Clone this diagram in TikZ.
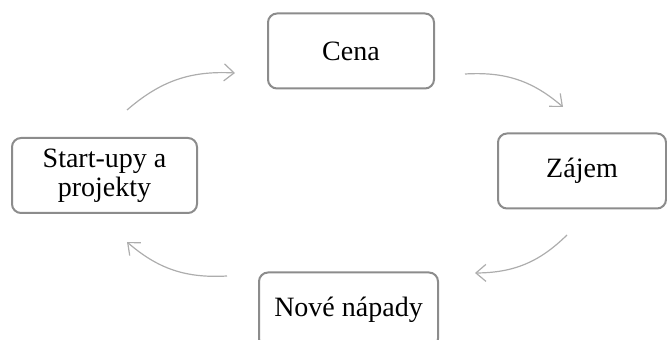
\documentclass[tikz,border=0pt]{standalone}
\usepackage{fontspec}
\setmainfont{Liberation Serif}
\usepackage{tikz}
\usetikzlibrary{positioning,arrows.meta,calc}
\colorlet{boxgray}{black!45}
\colorlet{arrowgray}{black!32}
\tikzset{
  stage/.style={draw=boxgray, line width=2pt, rounded corners=9pt,
    align=center, inner sep=2pt, minimum height=75pt,
    font=\fontsize{28}{29}\selectfont, fill=white},
  cycleflow/.style={-{Straight Barb[length=10pt, width=17pt]}, line width=1.2pt,
    draw=arrowgray},
}
\begin{document}
\begin{tikzpicture}[x=1pt,y=1pt]
\useasboundingbox (0,0) rectangle (667,340);
% stages
\node[stage, minimum width=166pt] (cena) at (351,289) {Cena};
\node[stage, minimum width=168pt] (zajem) at (582,169) {Zájem};
\node[stage, minimum width=179pt] (napady) at (348.5,30) {Nové nápady};
\node[stage, minimum width=185pt] (startupy) at (104.5,164.5) {Start-upy a\\projekty};
% arrow ends
\coordinate (a1s) at (127,230);
\coordinate (a1e) at (235,267);
\coordinate (a2s) at (465,266);
\coordinate (a2e) at (563,233);
\coordinate (a3s) at (567,105);
\coordinate (a3e) at (475,67);
\coordinate (a4s) at (227,64);
\coordinate (a4e) at (127,98);
% cycle arrows
\draw[cycleflow] (a1s) to[bend left=22] (a1e);
\draw[cycleflow] (a2s) to[bend left=22] (a2e);
\draw[cycleflow] (a3s) to[bend left=22] (a3e);
\draw[cycleflow] (a4s) to[bend left=22] (a4e);
\end{tikzpicture}
\end{document}
